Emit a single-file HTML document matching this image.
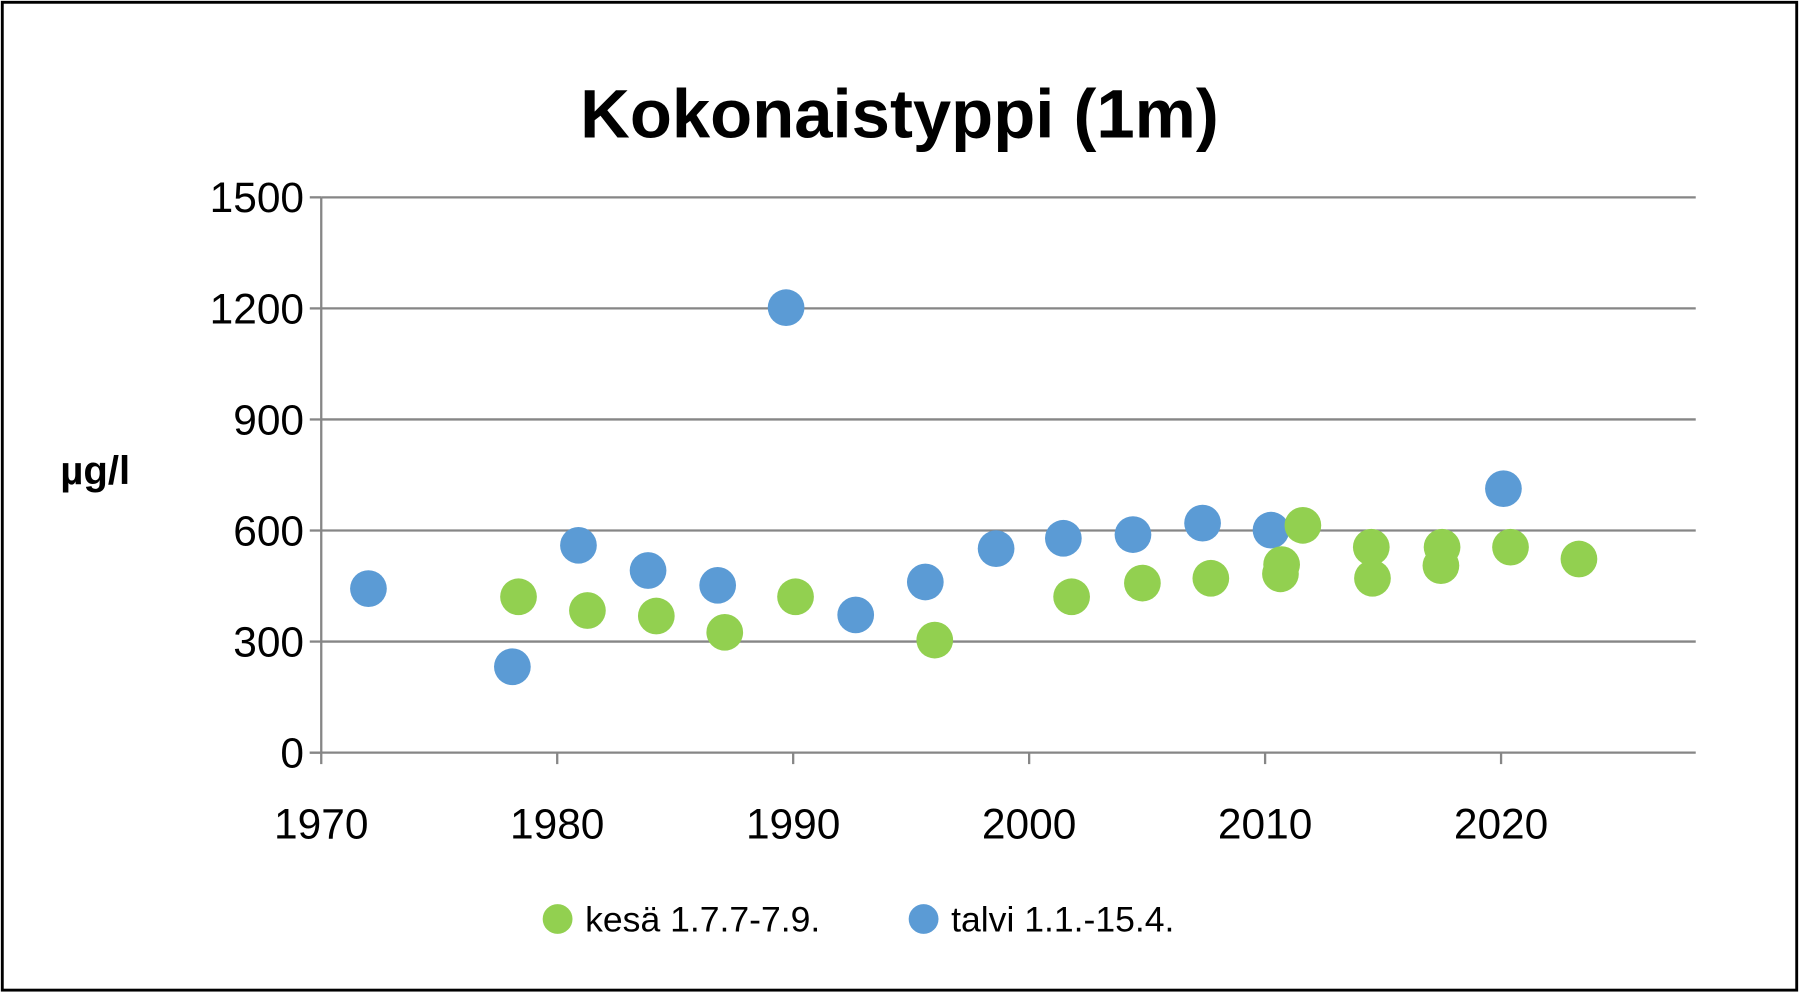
<!DOCTYPE html>
<html><head><meta charset="utf-8"><style>
html,body{margin:0;padding:0;background:#fff;overflow:hidden;}
svg{display:block;}
svg text{font-family:"Liberation Sans",sans-serif;}
</style></head><body>
<svg id="chart" width="1799" height="993" viewBox="0 0 1568 865.5" preserveAspectRatio="none" xmlns="http://www.w3.org/2000/svg">
<rect x="2" y="2" width="1564" height="861" fill="#fff" stroke="#000" stroke-width="2.5"/>
<text x="784" y="120" text-anchor="middle" font-size="60" font-weight="bold">Kokonaistyppi (1m)</text>
<text x="83" y="422" text-anchor="middle" font-size="35" font-weight="bold">µg/l</text>
<g id="grid"></g><g id="axes"></g><g id="marks"></g>
<g>
<circle cx="486" cy="801" r="13" fill="#92d050"/>
<text x="510" y="812" font-size="31">kesä 1.7.7-7.9.</text>
<circle cx="805" cy="801" r="13" fill="#5b9bd5"/>
<text x="829" y="812" font-size="31">talvi 1.1.-15.4.</text>
</g>
</svg>
<script>
const yTicks=[0,300,600,900,1200,1500];
const xTicks=[1970,1980,1990,2000,2010,2020];
const talviYears=[1972.0,1978.1,1980.9,1983.85,1986.8,1989.7,1992.65,1995.6,1998.6,2001.45,2004.4,2007.35,2010.25,2020.1];
const talviValues=[443,232,560,492,452,1202,372,461,551,579,589,620,601,713];
const kesaYears=[1978.36,1981.28,1984.2,1987.1,1990.1,1996.0,2001.8,2004.8,2007.7,2010.65,2010.7,2011.6,2014.5,2014.55,2017.45,2017.5,2020.4,2023.3];
const kesaValues=[421,384,369,325,421,304,421,458,471,483,508,614,555,471,505,555,555,523];
const X0=280,X1=1478,XMIN=1970,XMAX=2028.25,Y0=656,Y1=172,YMAX=1500;
const xs=v=>X0+(v-XMIN)/(XMAX-XMIN)*(X1-X0);
const ys=v=>Y0-(v/YMAX)*(Y0-Y1);
const NS="http://www.w3.org/2000/svg";
function mk(tag,attrs,parent,txt){const e=document.createElementNS(NS,tag);for(const k in attrs)e.setAttribute(k,attrs[k]);if(txt!==undefined)e.textContent=txt;parent.appendChild(e);return e;}
const grid=document.getElementById('grid'),axes=document.getElementById('axes'),marks=document.getElementById('marks');
yTicks.forEach(t=>{
 if(t>0){const g=mk('line',{x1:X0,x2:X1,y1:ys(t),y2:ys(t),stroke:'#868686','stroke-width':2},grid);
 
 }
 const tk=mk('line',{x1:X0-10,x2:X0,y1:ys(t),y2:ys(t),stroke:'#868686','stroke-width':2},axes);
 
 
 const l=mk('text',{x:X0-15,y:ys(t)+13,'text-anchor':'end','font-size':37},axes,String(t));
 
 
});
const ya=mk('line',{x1:X0,x2:X0,y1:Y1,y2:Y0,stroke:'#868686','stroke-width':2},axes);


const xa=mk('line',{x1:X0-10,x2:X1,y1:Y0,y2:Y0,stroke:'#868686','stroke-width':2},axes);


xTicks.forEach(t=>{
 const tk=mk('line',{x1:xs(t),x2:xs(t),y1:Y0,y2:Y0+10,stroke:'#868686','stroke-width':2},axes);
 
 
 const l=mk('text',{x:xs(t),y:Y0+75,'text-anchor':'middle','font-size':37},axes,String(t));
 
 
});
talviYears.forEach((yr,i)=>{
 const c=mk('circle',{cx:xs(yr),cy:ys(talviValues[i]),r:16,fill:'#5b9bd5'},marks);
 
 
});
kesaYears.forEach((yr,i)=>{
 const c=mk('circle',{cx:xs(yr),cy:ys(kesaValues[i]),r:16,fill:'#92d050'},marks);
 
 
});
</script>
</body></html>
